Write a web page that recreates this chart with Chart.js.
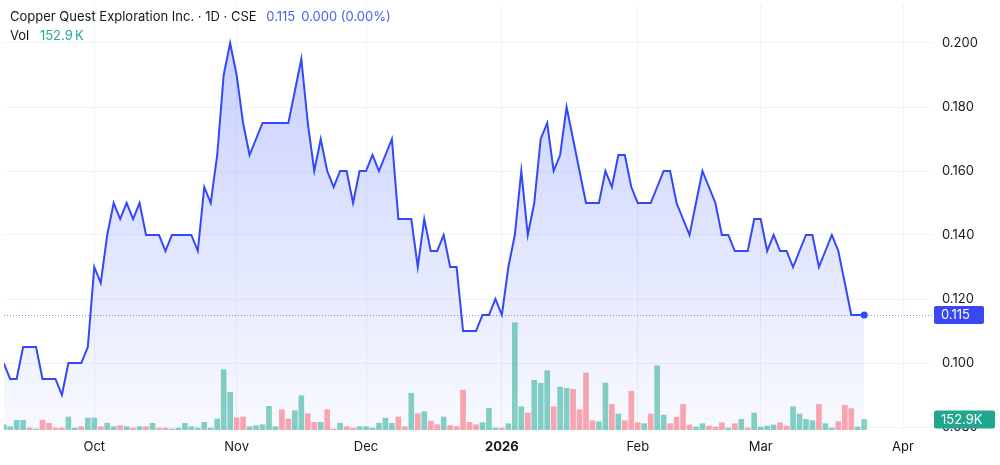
<!DOCTYPE html>
<html>
<head>
<meta charset="utf-8">
<script src="https://cdn.jsdelivr.net/npm/chart.js@4.4.1/dist/chart.umd.min.js"></script>
<style>
  html,body{margin:0;padding:0;background:#fff;}
  #wrap{position:relative;width:1000px;height:465px;font-family:Inter,"Noto Sans",sans-serif;}
  #legend{position:absolute;left:10px;top:7px;font-size:13px;color:#131722;line-height:19px;pointer-events:none;}
  #legend .b{color:#4a5cf7;margin-left:6px;}
  #legend .g{color:#22ab94;margin-left:7px;}
</style>
</head>
<body>
<div id="wrap">
  <canvas id="c" width="1000" height="465"></canvas>
  <div id="legend">
    <div>Copper Quest Exploration Inc. · 1D · CSE <span class="b">0.115</span><span class="b">0.000 (0.00%)</span></div>
    <div>Vol <span class="g">152.9&#8201;K</span></div>
  </div>
</div>
<script>
// trading calendar
const firstDay='2025-09-11', lastDay='2026-04-01';
const holidays=['2025-10-13','2025-12-25','2025-12-26','2026-01-01','2026-02-16'];
const monthNames=['Jan','Feb','Mar','Apr','May','Jun','Jul','Aug','Sep','Oct','Nov','Dec'];

// daily closes (CAD)
const closes=[0.100,0.095,0.095,0.105,0.105,0.105,0.095,0.095,0.095,0.090,
  0.100,0.100,0.100,0.105,0.130,0.125,0.140,0.150,0.145,0.150,
  0.145,0.150,0.140,0.140,0.140,0.135,0.140,0.140,0.140,0.140,
  0.135,0.155,0.150,0.165,0.190,0.200,0.190,0.175,0.165,0.170,
  0.175,0.175,0.175,0.175,0.175,0.185,0.195,0.175,0.160,0.170,
  0.160,0.155,0.160,0.160,0.150,0.160,0.160,0.165,0.160,0.165,
  0.170,0.145,0.145,0.145,0.130,0.145,0.135,0.135,0.140,0.130,
  0.130,0.110,0.110,0.110,0.115,0.115,0.120,0.115,0.130,0.140,
  0.160,0.140,0.150,0.170,0.175,0.160,0.165,0.180,0.170,0.160,
  0.150,0.150,0.150,0.160,0.155,0.165,0.165,0.155,0.150,0.150,
  0.150,0.155,0.160,0.160,0.150,0.145,0.140,0.150,0.160,0.155,
  0.150,0.140,0.140,0.135,0.135,0.135,0.145,0.145,0.135,0.140,
  0.135,0.135,0.130,0.135,0.140,0.140,0.130,0.135,0.140,0.135,
  0.125,0.115,0.115,0.115];

// daily volume (thousands of shares)
const volumes=[77,48,142,142,29,15,142,98,29,29,
  190,29,48,175,175,48,98,48,63,48,
  29,48,48,98,29,29,15,29,98,48,
  29,112,29,161,880,550,175,190,48,63,
  77,346,48,296,161,282,501,238,112,112,
  296,15,98,48,29,48,48,29,98,175,
  98,190,48,536,238,267,131,77,190,63,
  48,584,112,77,107,317,29,29,92,1567,
  340,248,726,682,866,340,628,609,594,296,
  832,136,121,686,375,234,136,565,107,92,
  234,939,219,92,185,375,73,44,92,58,
  44,107,29,92,156,29,248,44,58,73,
  107,58,340,234,156,136,375,92,29,121,
  361,311,44,152.9];

// volume bar direction: g = up day, r = down day
const volumeDir=('ggggrgrrrr'+'ggrggrggrg'+'rgrgrrgggg'+'ggggggrrgg'+'gggrrggrrg'+
  'rrgrrggggg'+'grrgrgrrgr'+'rrrrgggrgg'+'grgggrggrr'+'rrggrgrrrg'+
  'rggrrrrggr'+'rrgrgrgggg'+'rrggggrggr'+'rrgg').split('');

const priceTicks=[0.08,0.10,0.12,0.14,0.16,0.18,0.20];

function tradingDays(from,to){
  const out=[], d=new Date(from+'T00:00:00Z'), e=new Date(to+'T00:00:00Z');
  while(d<=e){
    const w=d.getUTCDay(), s=d.toISOString().slice(0,10);
    if(w>0 && w<6 && !holidays.includes(s)) out.push(s);
    d.setUTCDate(d.getUTCDate()+1);
  }
  return out;
}
const dates=tradingDays(firstDay,lastDay);
const monthStarts=[];
dates.forEach((s,i)=>{ if(i>0 && s.slice(5,7)!==dates[i-1].slice(5,7)) monthStarts.push(i); });
const monthLabel=i=>{ const s=dates[Math.round(i)]||'', m=+s.slice(5,7); return m===1 ? s.slice(0,4) : monthNames[m-1]; };

const lineColor='#3448f8';
const last=closes.length-1;
const lastClose=closes[last], lastVol=volumes[last];
const font='Inter, "Noto Sans", sans-serif';

const overlay={
  id:'overlay',
  afterDatasetsDraw(chart){
    const {ctx,chartArea:a,scales:{y}}=chart;
    const py=Math.round(y.getPixelForValue(lastClose))+0.5;
    ctx.save();
    ctx.strokeStyle='rgba(52,72,248,0.6)'; ctx.lineWidth=1; ctx.setLineDash([1,2]);
    ctx.beginPath(); ctx.moveTo(a.left,py); ctx.lineTo(a.right,py); ctx.stroke();
    ctx.restore();
  },
  afterDraw(chart){
    const {ctx,chartArea:a,scales:{y,v}}=chart;
    const box=(yc,w,bg,txt)=>{
      ctx.save();
      ctx.fillStyle=bg;
      ctx.beginPath(); ctx.roundRect(a.right+2,yc-9,w,18,2); ctx.fill();
      ctx.fillStyle='#fff'; ctx.font='13px '+font;
      ctx.textBaseline='middle'; ctx.textAlign='left';
      ctx.fillText(txt,a.right+9,yc+0.5);
      ctx.restore();
    };
    box(y.getPixelForValue(lastClose),50,'#3a47f5',lastClose.toFixed(3));
    box(Math.min(v.getPixelForValue(lastVol),a.bottom-9),61,'#22a690',lastVol.toFixed(1)+'K');
  }
};

const chart=new Chart(document.getElementById('c'),{
  data:{
    datasets:[
      {type:'line',label:'Close',yAxisID:'y',order:0,
        data:closes.map((c,i)=>({x:i,y:c})),
        borderColor:lineColor,borderWidth:2,tension:0,
        pointRadius:ctx=>ctx.dataIndex===last?3.5:0,
        pointBackgroundColor:lineColor,pointBorderWidth:0,
        fill:'start',
        backgroundColor:ctx=>{
          const a=ctx.chart.chartArea; if(!a) return 'rgba(52,72,248,0.1)';
          const g=ctx.chart.ctx.createLinearGradient(0,a.top+40,0,a.bottom);
          g.addColorStop(0,'rgba(52,82,248,0.27)');
          g.addColorStop(1,'rgba(52,82,248,0.03)');
          return g;
        }},
      {type:'bar',label:'Volume',yAxisID:'v',order:1,
        data:volumes.map((q,i)=>({x:i,y:q})),
        backgroundColor:volumeDir.map(d=>d==='g'?'rgba(34,171,148,0.55)':'rgba(247,82,95,0.5)'),
        barThickness:5,borderWidth:0}
    ]
  },
  options:{
    responsive:false,animation:false,
    layout:{padding:0},
    plugins:{legend:{display:false},tooltip:{enabled:false},filler:{drawTime:'beforeDatasetsDraw'}},
    scales:{
      x:{type:'linear',offset:false,min:-0.57,max:143.5,
        afterBuildTicks:s=>{ s.ticks=monthStarts.map(i=>({value:i})); },
        afterFit:s=>{ s.height=35; s.paddingLeft=0; s.paddingRight=0; },
        grid:{color:'#f0f3fa',drawTicks:false,offset:false},
        border:{display:false},
        ticks:{padding:9,color:'#131722',maxRotation:0,autoSkip:false,
          font:c=>({family:font,size:13,weight:(c.tick && (dates[c.tick.value]||'').slice(5,7)==='01')?'bold':'normal'}),
          callback:v=>monthLabel(v)}
      },
      y:{position:'right',min:0.079063,max:0.213438,
        afterBuildTicks:s=>{ s.ticks=priceTicks.map(p=>({value:p})); },
        afterFit:s=>{ s.width=68; s.paddingTop=0; s.paddingBottom=0; },
        grid:{color:'#f0f3fa',drawTicks:false},
        border:{display:false},
        ticks:{padding:10,color:'#131722',font:{family:font,size:13},
          callback:v=>v.toFixed(3)}
      },
      v:{display:false,min:0,max:6280}
    }
  },
  plugins:[overlay]
});

// pin the scales to the reference geometry: 0.100 at y=363, 320px per 0.1, 6.47px per bar
const a=chart.chartArea;
chart.options.scales.y.min=0.100-(a.bottom-363)/3200;
chart.options.scales.y.max=0.100+(363-a.top)/3200;
chart.options.scales.x.min=-(3.7-a.left)/6.47;
chart.options.scales.x.max=chart.options.scales.x.min+(a.right-a.left)/6.47;
chart.options.scales.v.max=(a.bottom-a.top)*14.6;
chart.update();
</script>
</body>
</html>
